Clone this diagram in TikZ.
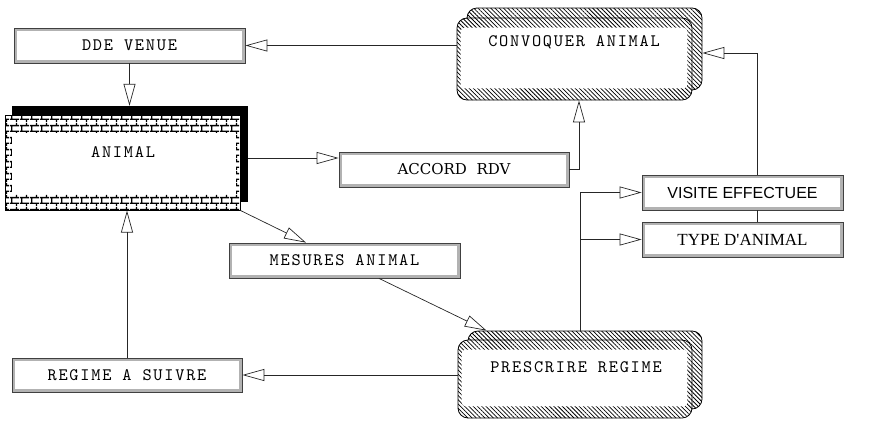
\documentclass[tikz,border=0pt]{standalone}
\usepackage{fontspec}
\usetikzlibrary{arrows.meta, patterns.meta, calc}

\newfontfamily\policesans{Liberation Sans}
\newfontfamily\policeserif{Liberation Serif}[Ligatures=TeXOff]
\newfontfamily\policelarge{DejaVu Serif}
\newfontfamily\policett{lmmono10-regular.otf}[LetterSpace=10]
\newcommand\policemono{\policett\fontsize{17.5}{18}\selectfont}

% motif de briques pour l'entite ANIMAL
\tikzdeclarepattern{
  name=briques,
  type=uncolored,
  bounding box={(0pt,0pt) and (10pt,12pt)},
  tile size={(10pt,12pt)},
  code={
    \draw[line width=1.4pt]
      (0pt,3pt) -- (10pt,3pt) (0pt,9pt) -- (10pt,9pt)
      (2pt,3pt) -- (2pt,9pt)
      (7pt,9pt) -- (7pt,12pt) (7pt,0pt) -- (7pt,3pt);
  }
}

\begin{document}
\begin{tikzpicture}[x=1pt, y=-1pt,
    boite/.style={draw=black!75, line width=0.8pt, fill=white, inner sep=0pt,
      minimum width=231pt, minimum height=35pt,
      path picture={\draw[gray!60, line width=6pt]
        (path picture bounding box.south west) rectangle (path picture bounding box.north east);}},
    hachure/.style={draw=black, line width=0.8pt, rounded corners=10pt, inner sep=0pt,
      preaction={fill=white}, pattern={Lines[angle=-45, distance=3pt, line width=0.75pt]}},
    brique/.style={draw=black, line width=1pt, inner sep=0pt,
      preaction={fill=white}, pattern=briques},
    lien/.style={draw=black!85, line width=0.7pt},
    fleche/.style={lien, -{Triangle[open, length=22pt, width=12pt, line width=0.7pt]}},
    mono/.style={font=\policemono, inner sep=0pt}]

  \useasboundingbox (0,0) rectangle (869,421);

  % ===== ENTITE ANIMAL (ombre + briques) =====
  \node[fill=black, inner sep=0pt, minimum width=236pt, minimum height=96pt] (animalombre) at (130,154) {};
  \node[brique, minimum width=235pt, minimum height=95pt] (animal) at (122.5,162.5) {};
  \fill[white] ($(animal.north west)+(7,18)$) rectangle ($(animal.south east)+(-5,-17)$);
  \node[mono] (animaltxt) at (123,152) {ANIMAL};

  % ===== PROCESSUS (boites hachurees doublees) =====
  \node[hachure, minimum width=235pt, minimum height=82pt] (convoquerfond) at (584.5,49) {};
  \node[hachure, minimum width=235pt, minimum height=82pt] (convoquer) at (574.5,59) {};
  \fill[white, rounded corners=4pt] ($(convoquer.north west)+(4,10)$) rectangle ($(convoquer.south east)+(-5,-12)$);
  \node[mono] (convoquertxt) at (574,42) {CONVOQUER ANIMAL};

  \node[hachure, minimum width=234pt, minimum height=78pt] (prescrirefond) at (585,370) {};
  \node[hachure, minimum width=234pt, minimum height=78pt] (prescrire) at (575,379) {};
  \fill[white, rounded corners=4pt] ($(prescrire.north west)+(4,10)$) rectangle ($(prescrire.south east)+(-5,-12)$);
  \node[mono] (prescriretxt) at (576,367) {PRESCRIRE REGIME};

  % ===== FLUX =====
  \node[boite, font=\policemono] (dde) at (129.5,45.5) {DDE VENUE};
  \node[boite, minimum width=230pt, font=\policelarge\fontsize{15}{18}\selectfont] (accord) at (454,169.5) {ACCORD\ \ RDV};
  \node[boite, font=\policemono] (mesures) at (344.5,260.5) {MESURES ANIMAL};
  \node[boite, minimum width=230pt, minimum height=34pt, font=\policemono] (regime) at (127,375) {REGIME A SUIVRE};
  \node[boite, minimum width=201pt, font=\policesans\fontsize{16}{18}\selectfont] (visite) at (742.5,192.5) {VISITE EFFECTUEE};
  \node[boite, minimum width=201pt, font=\policeserif\fontsize{17}{18}\selectfont] (type) at (742.5,239.5) {TYPE D'ANIMAL};

  % ===== CONNECTEURS =====
  \draw[fleche] (convoquer.west |- dde.east) -- (dde.east);
  \draw[fleche] (dde.south) -- (dde.south |- animalombre.north);
  \coordinate (rdv) at ([yshift=11.5pt]accord.west);
  \draw[fleche] (animalombre.east |- rdv) -- (rdv);
  \draw[fleche] (accord.east) -| ([xshift=4.5pt]convoquer.south);
  \draw[fleche] (animal.south east) -- ([xshift=-38.5pt]mesures.north);
  \draw[fleche] ([xshift=34.5pt]mesures.south) -- ([xshift=19pt]prescrirefond.north west);
  \draw[fleche] (prescrire.west |- regime.east) -- (regime.east);
  \draw[fleche] (regime.north) -- (regime.north |- animal.south);

  % embranchement vers les deux flux de droite
  \coordinate (embranch) at ([xshift=-5pt]prescrirefond.north);
  \draw[fleche] (embranch) |- (visite.west);
  \draw[fleche] (embranch |- type.west) -- (type.west);

  % retour vers CONVOQUER ANIMAL (passe sous VISITE EFFECTUEE)
  \draw[lien] ([xshift=14.5pt]type.north) -- ([xshift=14.5pt]visite.south);
  \draw[fleche] ([xshift=14.5pt]visite.north) |- ([yshift=-4pt]convoquerfond.east);

\end{tikzpicture}
\end{document}
